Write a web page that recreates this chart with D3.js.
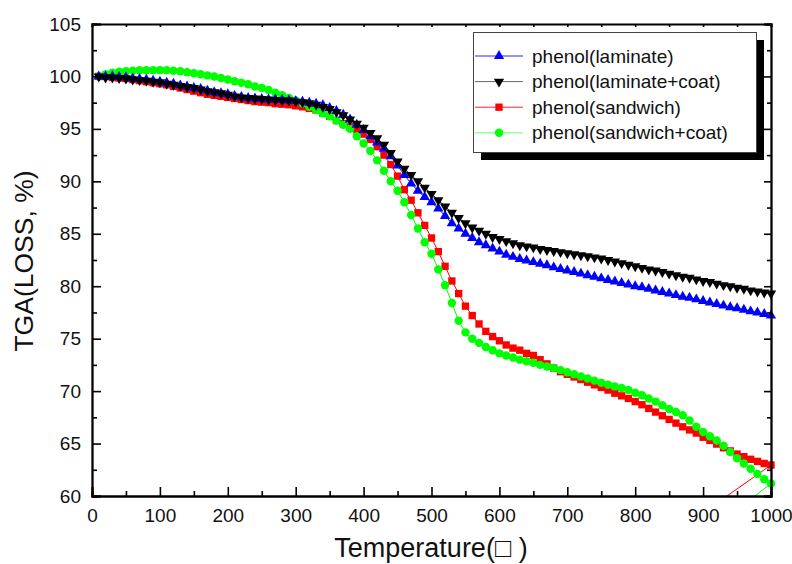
<!DOCTYPE html>
<html>
  <head>
    <meta http-equiv="content-type" content="text/html; charset=UTF-8">
    <title>TGA phenol</title>
    <script type='text/javascript' src='https://d3js.org/d3.v7.min.js'></script>
    <style type='text/css'>
      body { margin: 0; background-color: white; }
      text { font-family: "Liberation Sans", Arial, sans-serif; fill: #111; }
    </style>
  </head>
  <body>
    <script type='text/javascript'>
      // sampling grid of the curves, deg C
      var temps = d3.range(10, 1001, 10);

      var laminate = [
        100.0, 100.0, 100.0, 99.95, 99.9, 99.8, 99.75, 99.7, 99.6, 99.5,
        99.4, 99.3, 99.15, 99.05, 98.9, 98.8, 98.65, 98.5, 98.4, 98.3,
        98.15, 98.05, 97.95, 97.9, 97.85, 97.8, 97.8, 97.75, 97.7, 97.65,
        97.6, 97.5, 97.4, 97.25, 97.0, 96.7, 96.35, 95.9, 95.4, 94.9,
        94.3, 93.7, 93.1, 92.4, 91.5, 90.6, 89.8, 89.1, 88.5, 88.0,
        87.4, 86.7, 86.0, 85.5, 85.0, 84.6, 84.2, 83.9, 83.6, 83.3,
        83.0, 82.8, 82.6, 82.45, 82.3, 82.15, 82.0, 81.8, 81.65, 81.5,
        81.35, 81.2, 81.05, 80.9, 80.75, 80.6, 80.45, 80.3, 80.15, 80.0,
        79.9, 79.75, 79.6, 79.45, 79.3, 79.15, 79.0, 78.9, 78.75, 78.6,
        78.45, 78.3, 78.15, 78.0, 77.9, 77.75, 77.6, 77.5, 77.35, 77.2
      ];
      var laminateCoat = [
        100.0, 99.9, 99.9, 99.85, 99.8, 99.7, 99.65, 99.6, 99.5, 99.45,
        99.3, 99.2, 99.1, 99.0, 98.9, 98.75, 98.6, 98.5, 98.4, 98.25,
        98.1, 98.0, 97.95, 97.9, 97.85, 97.8, 97.75, 97.7, 97.7, 97.6,
        97.55, 97.45, 97.3, 97.1, 96.9, 96.6, 96.3, 95.9, 95.5, 95.1,
        94.6, 94.1, 93.5, 92.7, 91.9, 91.2, 90.6, 90.0, 89.4, 88.8,
        88.2, 87.6, 87.0, 86.5, 86.0, 85.6, 85.3, 85.0, 84.7, 84.5,
        84.3, 84.1, 83.9, 83.8, 83.7, 83.55, 83.45, 83.35, 83.25, 83.15,
        83.05, 82.95, 82.85, 82.75, 82.65, 82.5, 82.35, 82.2, 82.05, 81.9,
        81.75, 81.6, 81.5, 81.35, 81.2, 81.05, 80.9, 80.8, 80.65, 80.5,
        80.4, 80.25, 80.1, 80.0, 79.85, 79.75, 79.6, 79.5, 79.4, 79.3
      ];
      var sandwich = [
        100.0, 100.0, 99.9, 99.85, 99.8, 99.7, 99.6, 99.5, 99.4, 99.3,
        99.2, 99.05, 98.9, 98.75, 98.6, 98.45, 98.3, 98.2, 98.1, 98.0,
        97.9, 97.8, 97.7, 97.6, 97.55, 97.5, 97.4, 97.35, 97.3, 97.2,
        97.1, 96.95, 96.8, 96.5, 96.2, 95.8, 95.5, 95.2, 94.9, 94.5,
        94.0, 93.3, 92.5, 91.6, 90.5, 89.2, 88.2, 87.0, 85.8, 84.6,
        83.3, 81.9, 80.5, 79.3, 78.1, 77.2, 76.4, 75.7, 75.2, 74.8,
        74.4, 74.1, 73.9, 73.6, 73.4, 73.0, 72.6, 72.2, 71.85, 71.6,
        71.35, 71.1, 70.85, 70.6, 70.35, 70.1, 69.8, 69.55, 69.3, 69.0,
        68.7, 68.35, 68.0, 67.65, 67.3, 66.95, 66.6, 66.3, 66.0, 65.6,
        65.3, 64.95, 64.6, 64.3, 64.0, 63.75, 63.5, 63.3, 63.1, 62.95
      ];
      var sandwichCoat = [
        100.0, 100.2, 100.35, 100.45, 100.5, 100.55, 100.6, 100.6, 100.6, 100.6,
        100.6, 100.55, 100.5, 100.4, 100.3, 100.2, 100.1, 100.0, 99.85, 99.7,
        99.55, 99.4, 99.25, 99.05, 98.9, 98.7, 98.45, 98.2, 97.95, 97.7,
        97.45, 97.1, 96.8, 96.5, 96.2, 95.8, 95.4, 95.0, 94.3, 93.6,
        92.9, 92.0, 91.0, 90.0, 89.1, 88.0, 86.8, 85.5, 84.2, 83.1,
        81.6, 80.1, 78.4, 76.7, 75.6, 75.0, 74.6, 74.2, 73.9, 73.6,
        73.4, 73.2, 73.0, 72.85, 72.7, 72.5, 72.35, 72.2, 72.0, 71.8,
        71.6, 71.4, 71.2, 71.0, 70.8, 70.6, 70.45, 70.3, 70.1, 69.85,
        69.6, 69.3, 69.0, 68.65, 68.3, 68.0, 67.7, 67.2, 66.6, 66.1,
        65.7, 65.3, 64.8, 64.2, 63.6, 63.1, 62.6, 62.1, 61.6, 61.2
      ];
      // the recorded lines run on past the last marker, off the bottom of the frame
      var sandwichTail = [[900, 58.4]];
      var sandwichCoatTail = [[950, 58.7]];

      var seriesNames = ["phenol(laminate)", "phenol(laminate+coat)", "phenol(sandwich)", "phenol(sandwich+coat)"];
      var seriesColors = ["#0000ff", "#000000", "#ff0000", "#00ff00"];
      var legendLineColors = ["#2222ff", "#666666", "#ff2222", "#66ff66"];

      var xTicks = [0, 100, 200, 300, 400, 500, 600, 700, 800, 900, 1000];
      var yTicks = [60, 65, 70, 75, 80, 85, 90, 95, 100, 105];

      var series = [
        { name: seriesNames[0], values: laminate, color: seriesColors[0], line: legendLineColors[0], shape: "up", tail: [] },
        { name: seriesNames[1], values: laminateCoat, color: seriesColors[1], line: legendLineColors[1], shape: "down", tail: [] },
        { name: seriesNames[2], values: sandwich, color: seriesColors[2], line: legendLineColors[2], shape: "square", tail: sandwichTail },
        { name: seriesNames[3], values: sandwichCoat, color: seriesColors[3], line: legendLineColors[3], shape: "circle", tail: sandwichCoatTail }
      ];

      var W = 792, H = 564;
      var m = { left: 92, right: 21, top: 24, bottom: 68 };
      var w = W - m.left - m.right, h = H - m.top - m.bottom;

      var svg = d3.select("body").append("svg").attr("width", W).attr("height", H);
      var g = svg.append("g").attr("transform", "translate(" + m.left + "," + m.top + ")");

      var x = d3.scaleLinear().domain([0, 1000]).range([0, w]);
      var y = d3.scaleLinear().domain([60, 105]).range([h, 0]);

      g.append("clipPath").attr("id", "plot").append("rect")
        .attr("width", w).attr("height", h);

      function shapePath(shape) {
        if (shape == "up" || shape == "down") return d3.symbol().type(d3.symbolTriangle).size(46)();
        if (shape == "square") return d3.symbol().type(d3.symbolSquare).size(54)();
        return d3.symbol().type(d3.symbolCircle).size(56)();
      }
      function shapeTransform(shape, px, py) {
        return "translate(" + px + "," + py + ")" + (shape == "down" ? " rotate(180)" : "");
      }

      var line = d3.line().x(function(d) { return x(d[0]); }).y(function(d) { return y(d[1]); });

      // draw order as in the picture: sandwich, sandwich+coat, laminate, laminate+coat
      [2, 3, 0, 1].forEach(function(i) {
        var s = series[i];
        var pts = temps.map(function(t, k) { return [t, s.values[k]]; });
        g.append("path").datum(pts.concat(s.tail))
          .attr("clip-path", "url(#plot)")
          .attr("d", line).attr("fill", "none")
          .attr("stroke", s.color).attr("stroke-width", 1);
        g.append("g").selectAll("path").data(pts).enter().append("path")
          .attr("d", shapePath(s.shape))
          .attr("transform", function(d) { return shapeTransform(s.shape, x(d[0]), y(d[1])); })
          .attr("fill", s.color);
      });

      // axes, ticks pointing inward on all four sides
      function styleAxis(sel) {
        sel.select(".domain").attr("stroke", "#000").attr("stroke-width", 1.8);
        sel.selectAll(".tick line").attr("stroke", "#000").attr("stroke-width", 1.6);
        sel.selectAll("text").style("font-size", "19px").attr("fill", "#111");
      }
      var minorX = d3.range(50, 1000, 100), minorY = d3.range(62.5, 105, 5);

      g.append("g").attr("transform", "translate(0," + h + ")")
        .call(d3.axisBottom(x).tickValues(minorX).tickSize(-5).tickFormat(""))
        .call(styleAxis);
      g.append("g").attr("transform", "translate(0," + h + ")")
        .call(d3.axisBottom(x).tickValues(xTicks).tickSize(-9).tickPadding(13).tickFormat(d3.format("d")))
        .call(styleAxis);
      g.append("g")
        .call(d3.axisLeft(y).tickValues(minorY).tickSize(-5).tickFormat(""))
        .call(styleAxis);
      g.append("g")
        .call(d3.axisLeft(y).tickValues(yTicks).tickSize(-9).tickPadding(11).tickFormat(d3.format("d")))
        .call(styleAxis);
      g.append("g")
        .call(d3.axisTop(x).tickValues(xTicks.concat(minorX)).tickSize(-3).tickFormat(""))
        .call(styleAxis);
      g.append("g").attr("transform", "translate(" + w + ",0)")
        .call(d3.axisRight(y).tickValues(yTicks).tickSize(-7).tickFormat(""))
        .call(styleAxis);
      g.append("g").attr("transform", "translate(" + w + ",0)")
        .call(d3.axisRight(y).tickValues(minorY).tickSize(-4).tickFormat(""))
        .call(styleAxis);

      // axis titles
      svg.append("text").attr("x", 431).attr("y", 557)
        .attr("text-anchor", "middle").style("font-size", "27px")
        .text("Temperature(\u25A1 )");
      svg.append("text").attr("transform", "translate(33,261) rotate(-90)")
        .attr("text-anchor", "middle").style("font-size", "26.5px")
        .text("TGA(LOSS, %)");

      // legend with a drop shadow
      var lg = svg.append("g").attr("transform", "translate(473,32)");
      lg.append("rect").attr("x", 8).attr("y", 8).attr("width", 283).attr("height", 120).attr("fill", "#000");
      lg.append("rect").attr("x", 0.5).attr("y", 0.5).attr("width", 283).attr("height", 120)
        .attr("fill", "#fff").attr("stroke", "#444").attr("stroke-width", 1);
      series.forEach(function(s, i) {
        var ry = 24 + i * 25.6;
        lg.append("line").attr("x1", 2).attr("x2", 50).attr("y1", ry).attr("y2", ry)
          .attr("stroke", s.line).attr("stroke-width", 1);
        lg.append("path").attr("d", shapePath(s.shape))
          .attr("transform", shapeTransform(s.shape, 26, ry)).attr("fill", s.color);
        lg.append("text").attr("x", 59).attr("y", ry + 6.5).style("font-size", "19px").text(s.name);
      });
    </script>
  </body>
</html>
